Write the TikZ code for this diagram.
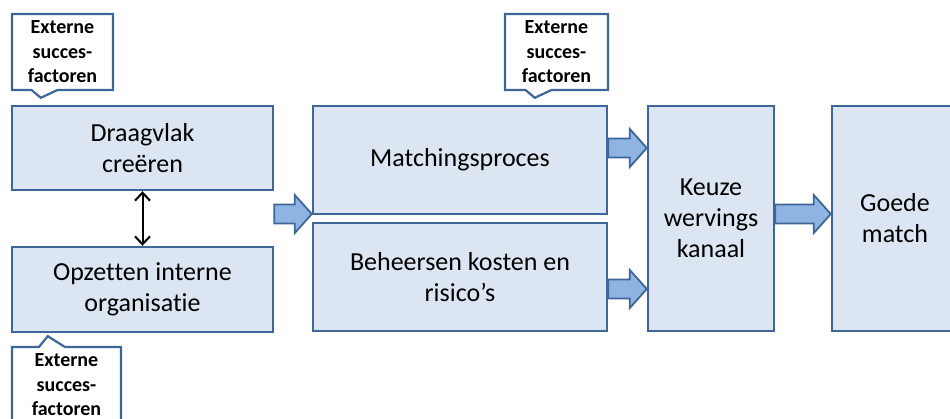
\documentclass[tikz,border=0pt]{standalone}
\usepackage{fontspec}
\setmainfont{Carlito}[Ligatures=CommonOff]
\usetikzlibrary{shapes.callouts,arrows.meta,calc}

\definecolor{rand}{HTML}{3E6697}
\definecolor{vlak}{HTML}{DCE6F2}
\definecolor{pijlvlak}{HTML}{8EB4E3}

% dikke blokpijl van #1 naar #2 (horizontaal)
\newcommand{\blokpijl}[2]{%
\path[pijl] let \p1=(#1), \p2=(#2) in
 (\x1,\y1+9.5pt) -- (\x2-17pt,\y1+9.5pt) -- (\x2-17pt,\y1+19pt) -- (\x2,\y1)
 -- (\x2-17pt,\y1-19pt) -- (\x2-17pt,\y1-9.5pt) -- (\x1,\y1-9.5pt) -- cycle;
}

\begin{document}
\begin{tikzpicture}[x=1pt,y=-1pt,
 blok/.style={draw=rand,fill=vlak,line width=2.4pt,inner sep=0pt,align=center,
   font=\fontsize{26}{31}\selectfont},
 ballon/.style={rectangle callout,draw=rand,fill=white,line width=2.2pt,inner sep=0pt,
   align=center,minimum height=76pt,callout pointer width=26pt,
   font=\bfseries\fontsize{20}{24.5}\selectfont},
 pijl/.style={draw=rand,fill=pijlvlak,line width=1.8pt,line join=miter},
 tweepijl/.style={<->,>={Straight Barb[length=8pt,width=15pt]},line width=2pt}]

\useasboundingbox (0,0) rectangle (950,419);

% blokken
\node[blok,minimum width=261pt,minimum height=84pt] (draag) at (142.5,148) {Draagvlak\\creëren};
\node[blok,minimum width=261pt,minimum height=85pt] (opzet) at (142.5,289.5) {Opzetten interne\\organisatie};
\node[blok,minimum width=294pt,minimum height=108pt] (match) at (460,160) {Matchingsproces};
\node[blok,minimum width=294pt,minimum height=108pt] (beheer) at (460,277) {Beheersen kosten en\\risico’s};
\node[blok,minimum width=126pt,minimum height=225pt] (keuze) at (711,218.5) {Keuze\\wervings\\kanaal};
\node[blok,minimum width=126pt,minimum height=225pt] (goede) at (895,218.5) {Goede\\match};

% pijlen
\draw[tweepijl] (draag) -- (opzet);
\foreach \van/\naar/\hoogte in {draag/match/214,match/keuze/148,beheer/keuze/289,keuze/goede/214} {
\blokpijl{\van.east |- 0,\hoogte}{\naar.west |- 0,\hoogte}
}

% ballonnen
\node[ballon,minimum width=101pt,callout absolute pointer={($(draag.north west)+(30,-7)$)}] (ext1) at (62.5,52) {Externe\\succes-\\factoren};
\node[ballon,minimum width=103pt,callout absolute pointer={($(match.north west)+(223,-7)$)}] (ext2) at (556.5,52) {Externe\\succes-\\factoren};
\node[ballon,minimum width=109pt,callout absolute pointer={($(opzet.south west)+(37,3)$)}] (ext3) at (66.5,385) {Externe\\succes-\\factoren};

\end{tikzpicture}
\end{document}
